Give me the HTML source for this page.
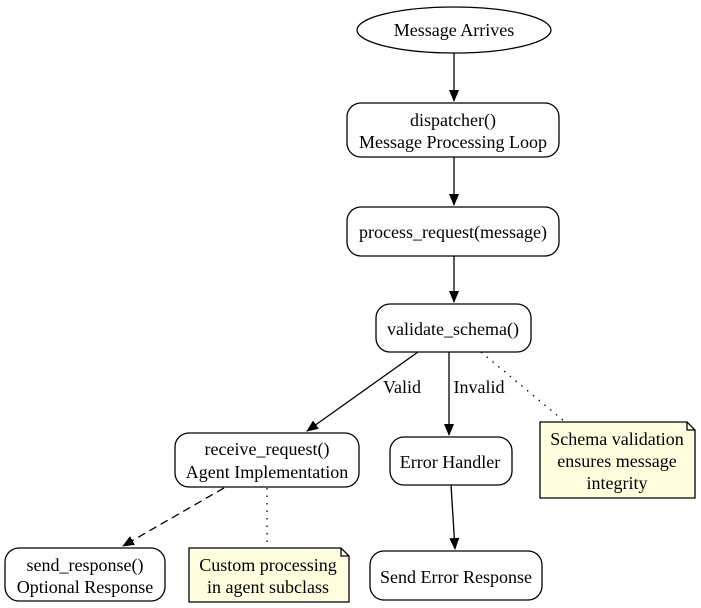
<!DOCTYPE html>
<html><head><meta charset="utf-8"><style>body{margin:0;background:#fff}svg{display:block}text{font-family:"Liberation Serif",serif;font-size:18px;fill:#000}</style></head><body>
<svg width="701" height="608" viewBox="0 0 701 608" xmlns="http://www.w3.org/2000/svg">
<defs><marker id="a" markerWidth="12" markerHeight="10" refX="11" refY="5" orient="auto" markerUnits="userSpaceOnUse"><path d="M0,0 L12,5 L0,10 z" fill="#000"/></marker></defs>
<g fill="none" stroke="#000" stroke-width="1.3">
<ellipse cx="454" cy="30" rx="97" ry="23" fill="#fff"/>
<rect x="347" y="103" width="212" height="54" rx="14" fill="#fff"/>
<rect x="347" y="207" width="212" height="49" rx="14" fill="#fff"/>
<rect x="376" y="304" width="155" height="48" rx="14" fill="#fff"/>
<rect x="175" y="433" width="184" height="54" rx="14" fill="#fff"/>
<rect x="390" y="437" width="122" height="48" rx="14" fill="#fff"/>
<rect x="5" y="548" width="160" height="53" rx="14" fill="#fff"/>
<rect x="370" y="551" width="172" height="49" rx="14" fill="#fff"/>
<path d="M540,422 H687 L695,430 V498 H540 Z M687,422 V430 H695" fill="#ffffe0"/>
<path d="M189,548 H341 L349,556 V602 H189 Z M341,548 V556 H349" fill="#ffffe0"/>
<line x1="454" y1="53" x2="454" y2="101" marker-end="url(#a)"/>
<line x1="454" y1="157" x2="454" y2="205" marker-end="url(#a)"/>
<line x1="454" y1="256" x2="454" y2="302" marker-end="url(#a)"/>
<line x1="418" y1="352" x2="307" y2="431" marker-end="url(#a)"/>
<line x1="449" y1="352" x2="449" y2="435" marker-end="url(#a)"/>
<line x1="481" y1="352" x2="564" y2="421" stroke-dasharray="1.5,6"/>
<line x1="451" y1="485" x2="455" y2="549" marker-end="url(#a)"/>
<line x1="224" y1="488" x2="123" y2="546" stroke-dasharray="8,5" marker-end="url(#a)"/>
<line x1="267" y1="488" x2="267" y2="547" stroke-dasharray="1.5,6"/>
</g>
<g text-anchor="middle">
<text x="454" y="36">Message Arrives</text>
<text x="453" y="126">dispatcher()</text>
<text x="453" y="148">Message Processing Loop</text>
<text x="453" y="238">process_request(message)</text>
<text x="453" y="335">validate_schema()</text>
<text x="267" y="455">receive_request()</text>
<text x="267" y="478">Agent Implementation</text>
<text x="450" y="468">Error Handler</text>
<text x="85" y="571">send_response()</text>
<text x="85" y="593">Optional Response</text>
<text x="456" y="583">Send Error Response</text>
<text x="617" y="445">Schema validation</text>
<text x="617" y="467">ensures message</text>
<text x="617" y="489">integrity</text>
<text x="268" y="571">Custom processing</text>
<text x="268" y="593">in agent subclass</text>
<text x="402" y="393">Valid</text>
<text x="479" y="393">Invalid</text>
</g>
</svg>
</body></html>
